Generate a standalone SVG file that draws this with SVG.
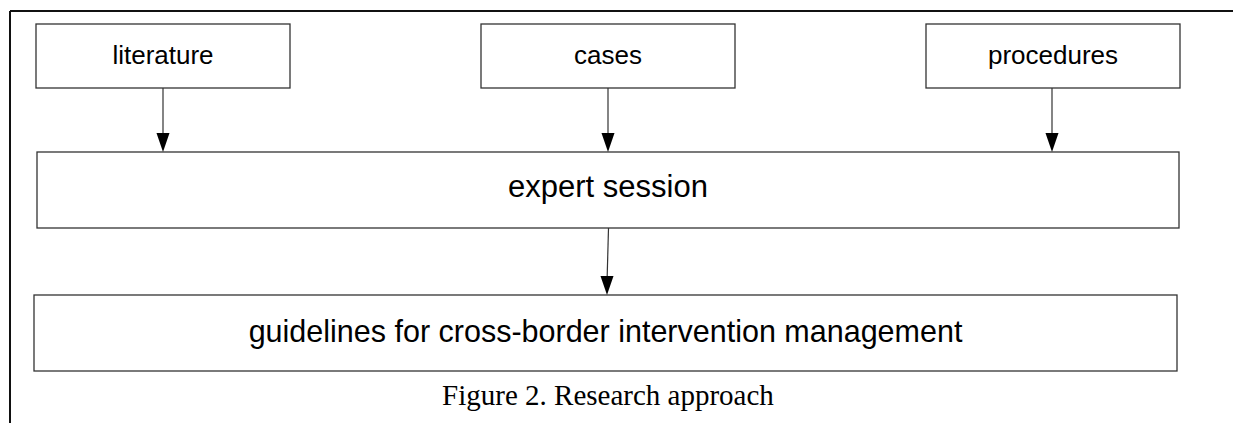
<svg xmlns="http://www.w3.org/2000/svg" width="1233" height="423" viewBox="0 0 1233 423">
<style>
.box{fill:#fff;stroke:#333;stroke-width:1.3}
.lbl{font-family:"Liberation Sans",Arial,sans-serif;fill:#000;text-anchor:middle}
.s{font-size:26px}
.m{font-size:31px}
.g{font-size:30.5px}
.con{stroke:#333;stroke-width:1.2;fill:none}
.cap{font-family:"Liberation Serif","Times New Roman",serif;font-size:29px;fill:#000;text-anchor:middle}
</style>
<rect width="1233" height="423" fill="#fff"/>
<g id="frame">
<path d="M10,11 H1233 M10,11 V423" stroke="#111" stroke-width="2" fill="none"/>
</g>
<g id="literature">
<rect class="box" x="36" y="24" width="254" height="64"/>
<text class="lbl s" x="163" y="64">literature</text>
</g>
<g id="cases">
<rect class="box" x="481" y="24" width="254" height="64"/>
<text class="lbl s" x="608" y="64">cases</text>
</g>
<g id="procedures">
<rect class="box" x="926" y="24" width="254" height="64"/>
<text class="lbl s" x="1053" y="64">procedures</text>
</g>
<g id="expert-session">
<rect class="box" x="37" y="152" width="1142" height="76"/>
<text class="lbl m" x="608" y="197">expert session</text>
</g>
<g id="guidelines">
<rect class="box" x="34" y="295" width="1143" height="76"/>
<text class="lbl g" x="605.5" y="342">guidelines for cross-border intervention management</text>
</g>
<g id="connectors">
<path class="con" d="M163,88 V133" />
<path d="M156.5,133 L169.5,133 L163,152 Z" fill="#000"/>
<path class="con" d="M608,88 V133" />
<path d="M601.5,133 L614.5,133 L608,152 Z" fill="#000"/>
<path class="con" d="M1052,88 V133" />
<path d="M1045.5,133 L1058.5,133 L1052,152 Z" fill="#000"/>
<path class="con" d="M608.5,228 L607.2,276" />
<path d="M600.5,276 L613.5,276 L607,295 Z" fill="#000"/>
</g>
<g id="caption">
<text class="cap" x="608" y="405">Figure 2. Research approach</text>
</g>
</svg>
